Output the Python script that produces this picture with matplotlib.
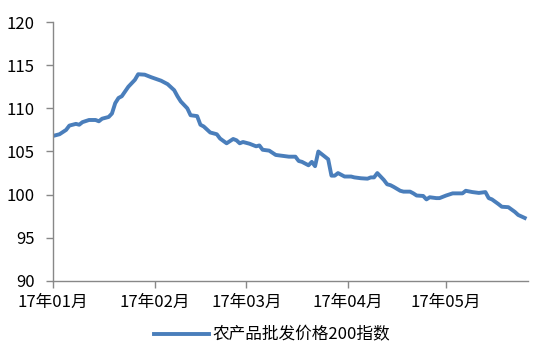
import numpy as np
import pandas as pd
import matplotlib
matplotlib.use('Agg')
import matplotlib.pyplot as plt
import matplotlib.dates as mdates

plt.rcParams['font.family'] = ['Noto Sans CJK SC', 'DejaVu Sans']

# day offset from 2017-01-01 and index value
day_offsets = [0, 2, 4, 5, 7, 8, 9, 11, 13, 14, 15, 17, 18, 19, 20, 21, 23, 24, 25, 26,
               28, 30, 33, 35, 37, 38, 39, 41, 42, 44, 45, 46, 48, 50, 51, 53, 55, 56, 57, 58,
               60, 62, 63, 64, 66, 68, 70, 72, 74, 75, 76, 78, 79, 80, 81, 82, 83, 84, 85, 86,
               87, 89, 91, 92, 94, 96, 97, 98, 99, 101, 102, 103, 104, 106, 107, 109, 110, 111,
               113, 114, 115, 117, 118, 120, 122, 125, 126, 128, 130, 132, 133, 134, 136, 137,
               139, 141, 142, 144]
index_values = [106.8, 107.0, 107.5, 108.0, 108.2, 108.1, 108.4, 108.65, 108.65, 108.5, 108.8,
                109.0, 109.4, 110.6, 111.2, 111.4, 112.5, 112.9, 113.3, 113.95, 113.9, 113.6,
                113.2, 112.8, 112.1, 111.4, 110.8, 110.0, 109.2, 109.1, 108.1, 107.9, 107.2,
                107.0, 106.5, 105.95, 106.45, 106.3, 105.95, 106.1, 105.9, 105.6, 105.7, 105.2,
                105.1, 104.6, 104.5, 104.4, 104.4, 103.9, 103.8, 103.4, 103.8, 103.3, 105.0,
                104.7, 104.4, 104.1, 102.2, 102.2, 102.5, 102.1, 102.1, 102.0, 101.9, 101.85,
                102.0, 102.0, 102.5, 101.7, 101.2, 101.1, 100.9, 100.45, 100.35, 100.35, 100.15,
                99.9, 99.85, 99.45, 99.7, 99.6, 99.6, 99.9, 100.15, 100.15, 100.45, 100.3, 100.2,
                100.3, 99.6, 99.45, 98.9, 98.6, 98.55, 98.0, 97.65, 97.3]
series_name = '农产品批发价格200指数'
y_ticks = [90, 95, 100, 105, 110, 115, 120]

dates = pd.Timestamp('2017-01-01') + pd.to_timedelta(day_offsets, unit='D')

fig = plt.figure(figsize=(5.44, 3.55), dpi=100)
ax = fig.add_axes([0.0974, 0.2085, 0.8732, 0.7295])

ax.plot(dates, index_values, color='#4a7ebb', linewidth=2.8, label=series_name,
        solid_joinstyle='round')

ax.set_ylim(90, 120)
ax.set_yticks(y_ticks)
ax.set_xlim(pd.Timestamp('2017-01-01'), pd.Timestamp('2017-05-26'))
ax.xaxis.set_major_locator(mdates.MonthLocator())
ax.xaxis.set_major_formatter(mdates.DateFormatter('%y年%m月'))

for side in ['top', 'right']:
    ax.spines[side].set_visible(False)
for side in ['left', 'bottom']:
    ax.spines[side].set_color('#888888')
    ax.spines[side].set_linewidth(1.0)
ax.tick_params(axis='both', colors='#888888', length=5, width=1.0, labelcolor='black',
               labelsize=12)
ax.tick_params(axis='y', pad=8)
ax.tick_params(axis='x', pad=4)

leg = fig.legend(loc='lower center', bbox_to_anchor=(0.5, -0.01), frameon=False,
                 fontsize=12, handlelength=3.3, handletextpad=0.2)

fig.savefig('out.png', dpi=100)
